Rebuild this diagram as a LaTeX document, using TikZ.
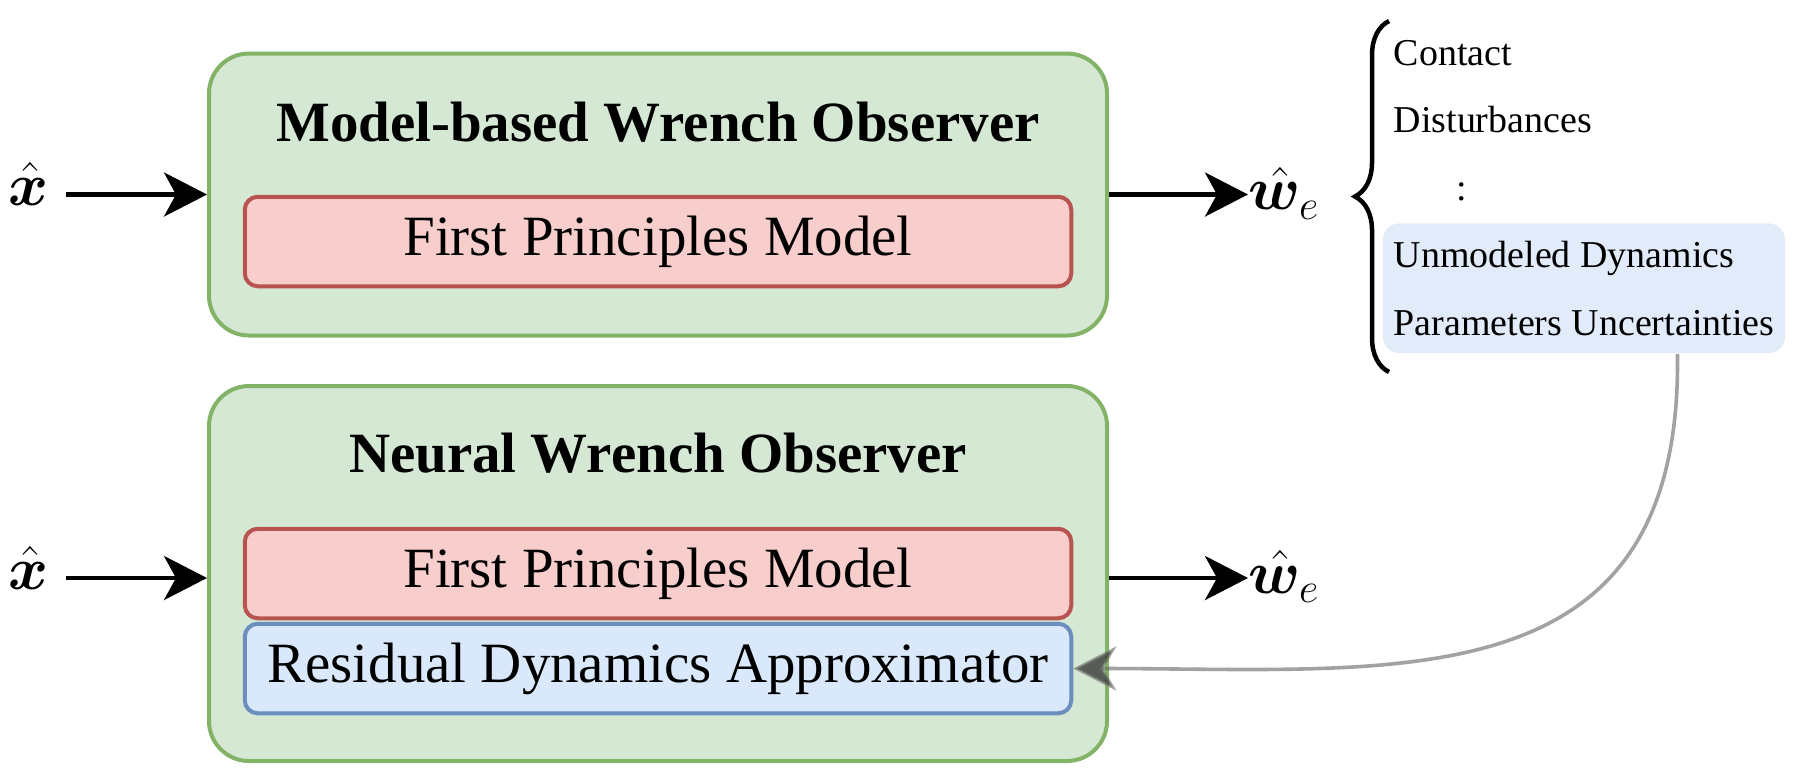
\documentclass[tikz,border=0pt]{standalone}
\usepackage{amsmath,amssymb}
\usepackage{bm}
\usepackage{fontspec}
\setmainfont{Liberation Serif}
\usepackage{xcolor}
\usepackage{tikz}
\usetikzlibrary{shapes,arrows.meta,positioning,calc,fit,backgrounds,decorations.pathreplacing}

\definecolor{obsfill}{HTML}{D5E8D4}
\definecolor{obsdraw}{HTML}{82B366}
\definecolor{fpfill}{HTML}{F8CECC}
\definecolor{fpdraw}{HTML}{B85450}
\definecolor{resfill}{HTML}{DAE8FC}
\definecolor{resdraw}{HTML}{6C8EBF}
\definecolor{uncfill}{RGB}{225,235,250}
\definecolor{linkgray}{RGB}{100,100,100}

\tikzset{
    observer/.style={draw=obsdraw, fill=obsfill, line width=0.4mm, rounded corners=4mm, minimum width=89.8mm, inner sep=0pt},
    modelbox/.style={line width=0.4mm, rounded corners=1.3mm, minimum width=82.65mm, minimum height=8.95mm, inner sep=0pt, font=\fontsize{16.2}{18}\selectfont},
    firstprinc/.style={modelbox, draw=fpdraw, fill=fpfill},
    residual/.style={modelbox, draw=resdraw, fill=resfill},
    obstitle/.style={anchor=base, inner sep=0pt, font=\fontsize{16.2}{18}\selectfont\bfseries},
    signal/.style={inner sep=0pt, font=\fontsize{16}{18}\selectfont},
    output/.style={signal, font=\fontsize{18.5}{20}\selectfont},
    listitem/.style={anchor=base west, inner sep=0pt, font=\fontsize{10.8}{12}\selectfont},
    flow/.style={line width=0.43mm, -{Stealth[length=4.3mm, width=4.4mm, inset=1.2mm]}},
}

\begin{document}
\begin{tikzpicture}[x=1mm, y=-1mm]
    \useasboundingbox (0,0) rectangle (179.4,77.3);

    % Model-based observer
    \node[observer, minimum height=28.2mm] (mbobs) at (65.8,19.45) {};
    \node[obstitle] (mbtitle) at (65.8,14.1) {Model-based Wrench Observer};
    \node[firstprinc] (fpm1) at (65.8,24.15) {First Principles Model};

    % Neural observer
    \node[observer, minimum height=37.5mm] (nnobs) at (65.8,57.35) {};
    \node[obstitle] (nntitle) at (65.8,47.2) {Neural Wrench Observer};
    \node[firstprinc] (fpm2) at (65.8,57.35) {First Principles Model};
    \node[residual] (resdyn) at (65.8,66.85) {Residual Dynamics Approximator};

    % Inputs and outputs
    \node[signal, anchor=west] (xhat1) at (0.8,18.4) {$\hat{\bm{x}}$};
    \node[signal, anchor=west] (xhat2) at (0.8,56.8) {$\hat{\bm{x}}$};
    \node[output, anchor=west] (what1) at (124.8,19.3) {$\hat{\bm{w}}_e$};
    \node[output, anchor=west] (what2) at (124.8,57.65) {$\hat{\bm{w}}_e$};

    \coordinate (nnin) at ([yshift=-0.45mm]nnobs.west);
    \coordinate (nnout) at ([yshift=-0.45mm]nnobs.east);

    \draw[flow] ([xshift=1.7mm]xhat1.east |- mbobs.west) -- (mbobs.west);
    \draw[flow] (mbobs.east) -- (mbobs.east -| what1.west);
    \draw[flow] ([xshift=1.7mm]xhat2.east |- nnin) -- (nnin);
    \draw[flow] (nnout) -- (nnout -| what2.west);

    % Wrench components
    \node[listitem] (contact) at (139.3,6.5) {Contact};
    \node[listitem] (dist) at (139.3,13.25) {Disturbances};
    \node[listitem] (vdots) at (145.6,20.0) {:};
    \node[listitem] (unmod) at (139.3,26.75) {Unmodeled Dynamics};
    \node[listitem] (params) at (139.3,33.5) {Parameters Uncertainties};
    \begin{scope}[on background layer]
        \node[fill=uncfill, rounded corners=1.6mm, inner xsep=1mm, inner ysep=1.7mm, fit=(unmod) (params)] (uncert) {};
    \end{scope}

    \coordinate (bracetop) at (138.9,2.1);
    \coordinate (bracebot) at (138.9,37.2);
    \draw[line width=0.45mm, decorate, decoration={brace, amplitude=3.4mm}] (bracebot) -- (bracetop);

    % Link to residual model
    \draw[linkgray, opacity=0.6, line width=0.36mm, -{Stealth[length=4.3mm, width=4.4mm, inset=1.3mm, fill=black]}]
        ([xshift=9.35mm]uncert.south) .. controls +(0.5,35) and ($(resdyn.east)+(32.5,0)$) .. (resdyn.east);
\end{tikzpicture}
\end{document}
